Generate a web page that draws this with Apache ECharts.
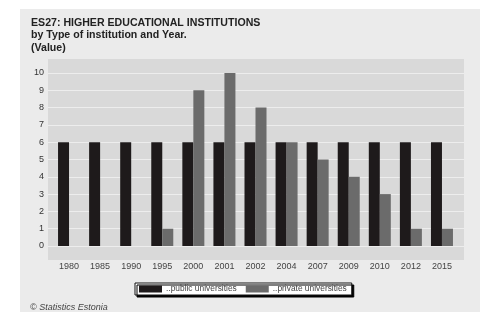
<!DOCTYPE html>
<html>
<head>
<meta charset="utf-8">
<script src="https://cdn.jsdelivr.net/npm/echarts@6/dist/echarts.min.js"></script>
<style>
  html, body { margin: 0; padding: 0; background: #fff; }
  #chart { width: 488px; height: 312px; }
</style>
</head>
<body>
<div id="chart"></div>
<script>
// data
var years = ["1980", "1985", "1990", "1995", "2000", "2001", "2002", "2004", "2007", "2009", "2010", "2012", "2015"];
var publicUni = [6, 6, 6, 6, 6, 6, 6, 6, 6, 6, 6, 6, 6];
var privateUni = [0, 0, 0, 1, 9, 10, 8, 6, 5, 4, 3, 1, 1];
var seriesNames = ["..public universities", "..private universities"];

var myChart = echarts.init(document.getElementById("chart"));

var option = {
  animation: false,
  textStyle: { fontFamily: "Liberation Sans, Arial, sans-serif" },
  title: {
    text: "ES27: HIGHER EDUCATIONAL INSTITUTIONS\nby Type of institution and Year.\n(Value)",
    left: 26,
    top: 12,
    textStyle: {
      fontSize: 10.6,
      fontWeight: "bold",
      color: "#222",
      lineHeight: 12.3,
    },
  },
  graphic: [
    {
      // outer panel
      type: "rect",
      z: -20,
      shape: { x: 20, y: 9, width: 460, height: 310 },
      style: { fill: "#ebebeb" },
    },
    {
      // plot background
      type: "rect",
      z: -10,
      shape: { x: 48, y: 59, width: 416, height: 201 },
      style: { fill: "#d9d9d9" },
    },
    {
      type: "text",
      left: 30,
      top: 303,
      style: {
        text: "© Statistics Estonia",
        fontSize: 9,
        fontStyle: "italic",
        fill: "#444",
        fontFamily: "Liberation Sans, Arial, sans-serif",
      },
    },
  ],
  legend: {
    left: 135,
    top: 283,
    itemWidth: 23,
    itemHeight: 7,
    itemGap: 9,
    padding: [2, 5, 2, 4],
    backgroundColor: "#fff",
    borderColor: "#111",
    borderWidth: 1,
    borderRadius: 0,
    shadowColor: "#000",
    shadowBlur: 0,
    shadowOffsetX: 2,
    shadowOffsetY: 2,
    icon: "rect",
    textStyle: { fontSize: 8.4, color: "#444", padding: [0, 0, 0, -1] },
    data: seriesNames,
  },
  grid: [
    // gridlines and y labels across the whole plot
    { left: 48, right: 24, top: 73, bottom: 66 },
    // bars
    { left: 53.5, right: 30.5, top: 73, bottom: 66 },
  ],
  xAxis: [
    { gridIndex: 0, type: "value", show: false, min: 0, max: 1 },
    {
      gridIndex: 1,
      type: "category",
      data: years,
      axisLine: { show: false },
      axisTick: { show: false },
      axisLabel: { fontSize: 9, color: "#444", margin: 16 },
    },
  ],
  yAxis: [
    {
      gridIndex: 0,
      type: "value",
      min: 0,
      max: 10,
      interval: 1,
      axisLine: { show: false },
      axisTick: { show: false },
      axisLabel: { fontSize: 9, color: "#333", margin: 4 },
      splitLine: { lineStyle: { color: "#ededed", width: 1 } },
    },
    { gridIndex: 1, type: "value", min: 0, max: 10, show: false, splitLine: { show: false } },
  ],
  series: [
    {
      name: seriesNames[0],
      type: "bar",
      xAxisIndex: 1,
      yAxisIndex: 1,
      barWidth: 11,
      barGap: "0%",
      itemStyle: { color: "#1e1a1b" },
      data: publicUni,
    },
    {
      name: seriesNames[1],
      type: "bar",
      xAxisIndex: 1,
      yAxisIndex: 1,
      barWidth: 11,
      barGap: "0%",
      itemStyle: { color: "#6b6b6b" },
      data: privateUni,
    },
  ],
};

myChart.setOption(option);
</script>
</body>
</html>
